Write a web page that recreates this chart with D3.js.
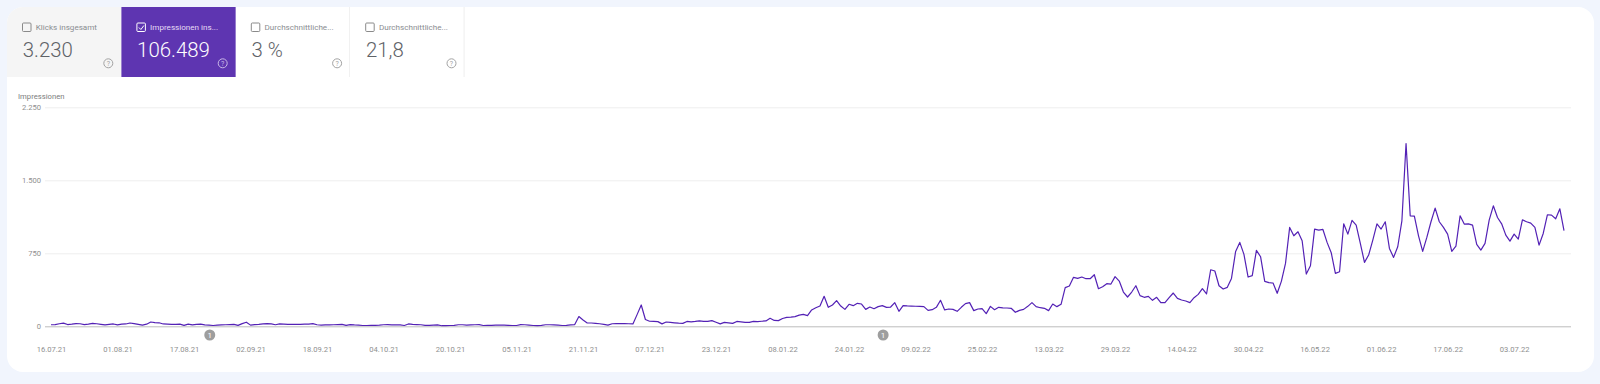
<!DOCTYPE html>
<html lang="de">
<head>
<meta charset="utf-8">
<title>Impressionen</title>
<script src="https://cdn.jsdelivr.net/npm/d3@7"></script>
<style>
  html, body { margin: 0; padding: 0; background: #f1f5fd; }
  svg { display: block; font-family: Roboto, sans-serif; }
  .domain { display: none; }
</style>
</head>
<body>
<svg id="chart" width="1600" height="384"></svg>
<script>
const tabLabels = ['Klicks insgesamt', 'Impressionen ins...', 'Durchschnittliche...', 'Durchschnittliche...']
const tabValues = ['3.230', '106.489', '3 %', '21,8']
const yTicks = [0, 750, 1500, 2250]
const yTickLabels = ['0', '750', '1.500', '2.250']
const xTickLabels = [
    '16.07.21', '01.08.21', '17.08.21', '02.09.21', '18.09.21', '04.10.21', '20.10.21', '05.11.21',
    '21.11.21', '07.12.21', '23.12.21', '08.01.22', '24.01.22', '09.02.22', '25.02.22', '13.03.22',
    '29.03.22', '14.04.22', '30.04.22', '16.05.22', '01.06.22', '17.06.22', '03.07.22'
]
const annotationDates = ['23.08.21', '01.02.22']
const firstDay = '16.07.21'
// one value per day
const impressions = [
    16, 18, 26, 32, 18, 22, 28, 26, 17, 22,
    30, 26, 20, 14, 20, 24, 14, 22, 24, 34,
    28, 20, 12, 22, 44, 38, 36, 24, 22, 20,
    20, 22, 10, 22, 14, 20, 22, 14, 12, 8,
    12, 14, 16, 18, 20, 10, 28, 42, 12, 18,
    20, 24, 28, 24, 16, 24, 22, 20, 20, 20,
    20, 22, 22, 28, 16, 12, 14, 14, 16, 18,
    20, 10, 18, 14, 12, 8, 8, 10, 10, 12,
    16, 18, 14, 16, 14, 8, 24, 20, 18, 16,
    10, 10, 12, 14, 6, 6, 8, 10, 16, 16,
    12, 14, 16, 18, 8, 10, 10, 12, 12, 12,
    10, 8, 8, 18, 16, 12, 8, 6, 10, 16,
    16, 14, 12, 8, 10, 14, 18, 100, 65, 34,
    34, 30, 26, 20, 12, 26, 28, 28, 27, 26,
    24, 120, 219, 70, 52, 50, 48, 25, 44, 40,
    36, 32, 30, 50, 46, 50, 55, 50, 50, 58,
    42, 25, 40, 36, 30, 50, 46, 40, 40, 50,
    48, 52, 55, 82, 60, 58, 80, 92, 95, 100,
    115, 122, 110, 168, 190, 208, 308, 195, 219, 263,
    208, 174, 226, 212, 236, 229, 174, 198, 181, 202,
    212, 195, 198, 243, 154, 212, 209, 208, 206, 204,
    202, 164, 171, 195, 267, 168, 178, 174, 154, 195,
    233, 243, 161, 178, 181, 130, 205, 171, 195, 190,
    188, 185, 144, 164, 174, 205, 243, 202, 191, 185,
    161, 229, 202, 226, 397, 414, 503, 492, 506, 489,
    489, 530, 386, 407, 438, 434, 510, 465, 352, 301,
    352, 417, 315, 298, 308, 267, 298, 243, 243, 294,
    342, 287, 270, 260, 243, 294, 328, 386, 332, 581,
    568, 417, 383, 400, 492, 769, 862, 739, 506, 520,
    780, 715, 462, 448, 445, 339, 462, 646, 1016, 930,
    971, 879, 537, 622, 999, 988, 995, 862, 756, 544,
    561, 1053, 947, 1088, 1040, 852, 657, 732, 886, 1053,
    999, 1074, 800, 708, 817, 1084, 1878, 1135, 1132, 930,
    770, 913, 1074, 1214, 1074, 1016, 947, 770, 824, 1135,
    1050, 1053, 1040, 841, 783, 852, 1091, 1238, 1118, 1053,
    937, 875, 947, 896, 1094, 1074, 1060, 1016, 834, 954,
    1146, 1142, 1105, 1207, 982
]

const parseDay = d3.utcParse('%d.%m.%y')
const formatDay = d3.utcFormat('%d.%m.%y')
const start = parseDay(firstDay)
const series = impressions.map((v, i) => ({date: d3.utcDay.offset(start, i), value: v}))

const svg = d3.select('#chart')

const x = d3.scaleUtc()
    .domain(d3.extent(series, d => d.date))
    .range([51, 1564])
const y = d3.scaleLinear()
    .domain([0, 2250])
    .range([326.3, 107.3])

// card
svg.append('rect')
    .attr('x', 7).attr('y', 7)
    .attr('width', 1587).attr('height', 365)
    .attr('rx', 16)
    .attr('fill', '#fff')

// tabs
const tabWidth = 114.4
const tabFill = ['#f5f5f5', '#5e35b1', '#fff', '#fff']
const tabs = svg.append('g').selectAll('g')
    .data(tabLabels)
    .join('g')
    .attr('transform', (d, i) => `translate(${7 + i * tabWidth},7)`)

tabs.append('path')
    .attr('d', (d, i) => i === 0
        ? `M0,70V16A16,16 0 0 1 16,0H${tabWidth}V70Z`
        : `M0,0H${tabWidth}V70H0Z`)
    .attr('fill', (d, i) => tabFill[i])

tabs.filter((d, i) => i > 1).append('line')
    .attr('x1', tabWidth - 0.5).attr('x2', tabWidth - 0.5)
    .attr('y1', 0).attr('y2', 70)
    .attr('stroke', '#eeeeee')

tabs.append('rect')
    .attr('x', 15.5).attr('y', 16)
    .attr('width', 8.5).attr('height', 8.5)
    .attr('rx', 1)
    .attr('fill', 'none')
    .attr('stroke', (d, i) => i === 1 ? '#fff' : '#8a8a8a')

tabs.filter((d, i) => i === 1).append('path')
    .attr('d', 'M17.5,20.5l2,2l3,-4')
    .attr('fill', 'none')
    .attr('stroke', '#fff')

tabs.append('text')
    .attr('x', 28.7).attr('y', 23.2)
    .attr('font-size', 8.1)
    .attr('fill', (d, i) => i === 1 ? '#e6dcf5' : '#8a8d91')
    .text(d => d)

tabs.append('text')
    .data(tabValues)
    .attr('x', 15.7).attr('y', 49.7)
    .attr('font-size', 20.4)
    .attr('font-weight', 300)
    .attr('fill', (d, i) => i === 1 ? '#fff' : '#5f6368')
    .text(d => d)

tabs.append('circle')
    .attr('cx', 101.3).attr('cy', 56.3).attr('r', 4.5)
    .attr('fill', 'none')
    .attr('stroke', (d, i) => i === 1 ? '#c9b8e6' : '#a3a3a3')

tabs.append('text')
    .attr('x', 101.3).attr('y', 58.8)
    .attr('text-anchor', 'middle')
    .attr('font-size', 7)
    .attr('fill', (d, i) => i === 1 ? '#c9b8e6' : '#a3a3a3')
    .text('?')

// y axis with gridlines
svg.append('text')
    .attr('x', 18).attr('y', 99)
    .attr('font-size', 7.7)
    .attr('fill', '#7d7d7d')
    .text('Impressionen')

const yAxis = svg.append('g')
    .attr('transform', 'translate(1571,0)')
    .call(d3.axisLeft(y)
        .tickValues(yTicks)
        .tickSize(1526)
        .tickPadding(4)
        .tickFormat((d, i) => yTickLabels[i]))
yAxis.selectAll('line')
    .attr('stroke', d => d === 0 ? '#bdbdbd' : '#eeeeee')
yAxis.selectAll('text')
    .attr('font-family', 'Roboto, sans-serif')
    .attr('font-size', 7.6)
    .attr('fill', '#8f8f8f')

// x axis
const xAxis = svg.append('g')
    .attr('transform', 'translate(0,326)')
    .call(d3.axisBottom(x)
        .tickValues(xTickLabels.map(parseDay))
        .tickSize(0)
        .tickPadding(20.5)
        .tickFormat(formatDay))
xAxis.selectAll('text')
    .attr('font-family', 'Roboto, sans-serif')
    .attr('font-size', 7.6)
    .attr('fill', '#8f8f8f')

// line
svg.append('path')
    .datum(series)
    .attr('fill', 'none')
    .attr('stroke', '#5321b5')
    .attr('stroke-width', 1.2)
    .attr('stroke-linejoin', 'round')
    .attr('d', d3.line().x(d => x(d.date)).y(d => y(d.value)))

// annotations
const notes = svg.append('g').selectAll('g')
    .data(annotationDates)
    .join('g')
    .attr('transform', d => `translate(${x(parseDay(d)) + 0.8},335)`)
notes.append('circle')
    .attr('r', 5.5)
    .attr('fill', '#9e9e9e')
notes.append('text')
    .attr('y', 3)
    .attr('text-anchor', 'middle')
    .attr('font-size', 8)
    .attr('fill', '#fff')
    .text('1')
</script>
</body>
</html>
